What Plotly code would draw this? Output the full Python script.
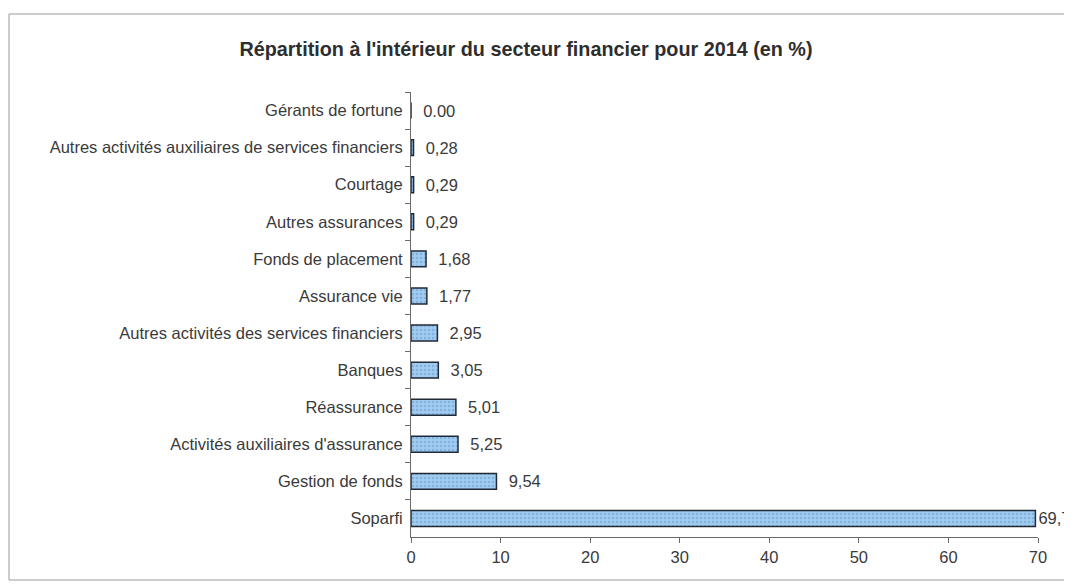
import plotly.graph_objects as go

categories = [
    "Gérants de fortune",
    "Autres activités auxiliaires de services financiers",
    "Courtage",
    "Autres assurances",
    "Fonds de placement",
    "Assurance vie",
    "Autres activités des services financiers",
    "Banques",
    "Réassurance",
    "Activités auxiliaires d'assurance",
    "Gestion de fonds",
    "Soparfi",
]
values = [0.00, 0.28, 0.29, 0.29, 1.68, 1.77, 2.95, 3.05, 5.01, 5.25, 9.54, 69.71]
value_labels = ["0.00", "0,28", "0,29", "0,29", "1,68", "1,77", "2,95", "3,05",
                "5,01", "5,25", "9,54", "69,71"]
x_ticks = [0, 10, 20, 30, 40, 50, 60, 70]
title = "Répartition à l'intérieur du secteur financier pour 2014 (en %)"

texts = [("  " + t) if v < 60 else t for t, v in zip(value_labels, values)]

FONT = "Liberation Sans, Arial"
TXT = "#3a3a3a"
FS = 16.5

fig = go.Figure(go.Bar(
    x=values,
    y=categories,
    orientation="h",
    text=texts,
    textposition="outside",
    cliponaxis=False,
    constraintext="none",
    textfont=dict(family=FONT, size=FS, color=TXT),
    marker=dict(
        color="#a3cbee",
        line=dict(color="#1f2a36", width=1.5),
        pattern=dict(shape=".", fgcolor="#5a9ad6", size=4, solidity=0.35),
    ),
))

# page offset (body margin) of 8 px is compensated below
OFF = 8
W0, W1 = 411 - OFF, 1038 - OFF
T0, B0 = 92 - OFF, 537 - OFF
pw = W1 - W0
ph = B0 - T0

fig.update_layout(
    width=1072, height=588,
    margin=dict(l=W0, r=1072 - W1, t=T0, b=588 - B0),
    paper_bgcolor="white", plot_bgcolor="white",
    showlegend=False,
    bargap=0.57,
    font=dict(family=FONT, size=FS, color=TXT),
    title=dict(text="<b>" + title + "</b>", x=(526 - OFF) / 1072, xanchor="center",
               y=1 - (49 - OFF) / 588, yanchor="middle",
               font=dict(size=19.8, color="#2e2e2e")),
    shapes=[dict(type="rect", xref="paper", yref="paper",
                 x0=(9 - OFF - W0) / pw, x1=(1066 - OFF - W0) / pw,
                 y0=(B0 - (580 - OFF)) / ph, y1=(B0 - (14 - OFF)) / ph,
                 line=dict(color="#9a9a9a", width=1), fillcolor="rgba(0,0,0,0)",
                 layer="below")],
)
fig.update_xaxes(
    range=[0, 70], tickvals=x_ticks, showgrid=False, zeroline=False,
    showline=True, linecolor="#6a6a6a", linewidth=1,
    ticks="outside", ticklen=5, tickcolor="#6a6a6a",
    tickfont=dict(size=FS, color=TXT),
)
fig.update_yaxes(
    autorange="reversed", showgrid=False, zeroline=False,
    showline=True, linecolor="#6a6a6a", linewidth=1,
    ticks="outside", ticklen=5, tickcolor="#6a6a6a", tickson="boundaries",
    ticklabelstandoff=4,
    tickfont=dict(size=FS, color=TXT),
)

fig.write_html("out.html")
